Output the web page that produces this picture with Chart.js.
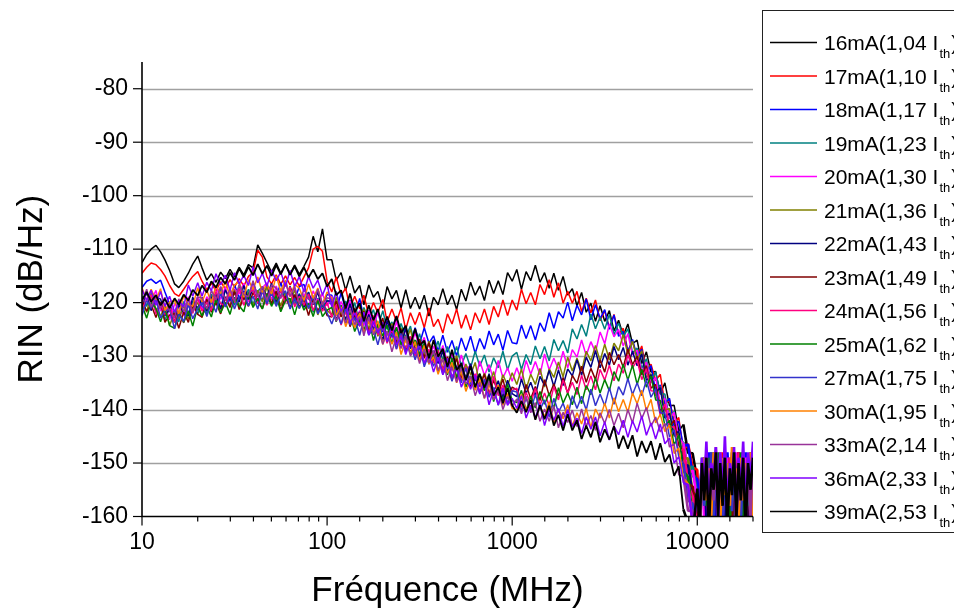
<!DOCTYPE html>
<html>
<head>
<meta charset="utf-8">
<title>RIN</title>
<script src="https://cdn.jsdelivr.net/npm/chart.js@4/dist/chart.umd.min.js"></script>
<style>
  html, body { margin: 0; padding: 0; background: #fff; }
  canvas { display: block; }
</style>
</head>
<body>
<canvas id="rinChart" width="954" height="614"></canvas>
<script>
// frequency grid (MHz)
const FREQ = [10,10.6,11.2,11.9,12.6,13.3,14.1,15,15.8,16.8,17.8,18.8,20,21.1,22.4,23.7,25.1,26.6,28.2,29.9,
  31.6,33.5,35.5,37.6,39.8,42.2,44.7,47.3,50.1,53.1,56.2,59.6,63.1,66.8,70.8,75,79.4,84.1,89.1,94.4,100,
  106,112,119,126,133,141,150,158,168,178,188,200,211,224,237,251,266,282,299,316,
  335,355,376,398,422,447,473,501,531,562,596,631,668,708,750,794,841,891,944,1000,
  1059,1122,1189,1259,1334,1413,1496,1585,1679,1778,1884,1995,2113,2239,2371,2512,2661,2818,2985,3162,
  3350,3548,3758,3981,4217,4467,4732,5012,5309,5623,5957,6310,6683,7079,7499,7943,8414,8913,9441,10000,
  10300,10600,10900,11200,11550,11900,12250,12600,12950,13300,13700,14100,
  14550,15000,15400,15800,16250,16700,17200,17700,18250,18800,19400,20000];

const CURRENTS = ['16mA','17mA','18mA','19mA','20mA','21mA','22mA','23mA','24mA','25mA','27mA','30mA','33mA','36mA','39mA'];
const RATIOS = ['1,04','1,10','1,17','1,23','1,30','1,36','1,43','1,49','1,56','1,62','1,75','1,95','2,14','2,33','2,53'];
const COLORS = ['#000000','#ff0000','#0000ff','#008080','#ff00ff','#808000','#000080','#800000','#ff0080','#008000','#3333cc','#ff8000','#993399','#8000ff','#000000'];

const Y_TICKS = [-160,-150,-140,-130,-120,-110,-100,-90,-80];
const X_TICKS = [10,100,1000,10000];

// RIN (dB/Hz)
const RIN_16 = [-112.5,-111,-110,-109.3,-110.5,-112,-114,-116.5,-117.2,-116,-114.5,-112.8,-111.3,-113.5,-115.8,-114.6,-116.2,-114.3,-115.5,-113.8,
  -115.2,-113.4,-114.8,-112.9,-113.5,-109.2,-110.8,-112.5,-114.3,-112.6,-114.5,-112.8,-114.6,-113,-114.7,-113.2,-111.5,-107.6,-110.5,-106.2,-112,
  -112,-115.8,-114.4,-117.7,-115,-118.2,-116.8,-120.4,-116.7,-119,-117.9,-121.1,-117,-119.3,-117.7,-121,-117.6,-121.1,-119,-121.2,
  -118.6,-122.5,-119,-120.4,-117.4,-120.4,-118.6,-121.3,-117.5,-119.7,-116.2,-118.6,-116.9,-119.6,-115.8,-118.3,-115.9,-118.5,-114.4,-116,
  -113.8,-117.5,-114.2,-115.9,-113,-116.2,-114.4,-117.3,-114.5,-117.7,-115.1,-118.6,-117.4,-120.6,-118.1,-121.8,-120.1,-123.5,-120.6,-123.5,
  -121.5,-125.3,-123.3,-126.2,-124,-127.7,-127,-131.4,-129.2,-133,-132.9,-137.1,-135,-139.3,-139.2,-144,-142.8,-148.1,-148.2,-153.2,
  -156,-150,-158,-149,-161,-151,-155,-148,-160,-152,-157,-149,-162,-150,-154,-148,-159,-151,-156,-149,-161,-150,-155,-148];
const RIN_17 = [-114.5,-113.4,-112.6,-112.9,-113.8,-115,-116.8,-118.3,-118.8,-117.5,-116.2,-115.1,-114.2,-116,-117.6,-116.4,-117.8,-116.1,-117.4,-115.7,
  -117.1,-115.5,-116.9,-115.1,-114.4,-110.2,-111.5,-115.2,-116.5,-114.8,-116.6,-115,-116.7,-115.3,-116.9,-115.2,-113.5,-110,-109.5,-110.4,-116,
  -118,-115.2,-118.7,-117.3,-121,-118.8,-121.2,-118.6,-122.4,-120,-121.9,-119.4,-123.6,-121.2,-123.6,-121,-125,-121.9,-124.1,-121.8,
  -124.7,-121,-124.5,-123.1,-125.7,-122.1,-124,-121.2,-124.8,-122.3,-125.1,-121.9,-123.8,-121.2,-124.1,-120.7,-122.7,-119.5,-122.4,-119.5,
  -121.4,-117.5,-120.2,-118.1,-120.4,-116.6,-118.5,-115.7,-119,-116.3,-120.1,-117.9,-120.1,-117.9,-121.7,-119.2,-121.9,-119.5,-123.4,-121.5,
  -124.7,-122.2,-125.9,-124.8,-129,-127.3,-130.2,-128.1,-132.8,-131.5,-134.6,-133.4,-139,-138.2,-142.3,-141.5,-147.7,-146.4,-150.8,-151.3,
  -160,-152,-149,-157,-151,-162,-149,-156,-150,-158,-148,-155,-151,-161,-149,-157,-150,-163,-152,-148,-158,-150,-160,-151];
const RIN_18 = [-117.2,-116,-115.6,-116.4,-115.8,-118,-120.3,-122.4,-120.1,-121.9,-119.4,-121.3,-118.9,-120.8,-121.4,-118.5,-119.9,-117.1,-119.4,-119.8,
  -116.6,-119.2,-117.8,-118.9,-116.2,-118.7,-119.5,-116.8,-118.6,-119,-116.3,-118.9,-117.4,-119.5,-117,-116.6,-119.3,-120,-117.6,-120.2,-118.5,
  -118.6,-121.6,-118.2,-121.3,-119.5,-122.5,-119.2,-122.9,-121.4,-124.2,-121.6,-125.5,-122.8,-124.9,-122.6,-126.4,-124.7,-127.6,-124.7,-127.7,
  -124.7,-127.6,-126.2,-129.1,-126.1,-129.3,-127.1,-130,-126.6,-129,-126.3,-129.5,-126.7,-128.7,-125.3,-127.9,-125.9,-128.9,-125.2,-127.5,
  -127.7,-124.2,-126.7,-124.3,-127,-123.8,-125.4,-121.9,-124.8,-121.7,-122.9,-119.9,-123.4,-120.5,-122.3,-119.3,-123.2,-120.4,-123,-121.3,
  -125,-122.3,-126.3,-125.4,-129.2,-126.9,-130.1,-128.7,-133.3,-131.8,-136.6,-135.4,-138.9,-137.9,-143.2,-142.2,-146.9,-146.5,-152.4,-153,
  -158,-153,-150,-160,-148,-155,-152,-162,-149,-154,-150,-159,-148,-156,-152,-161,-149,-155,-150,-158,-148,-162,-151,-156];
const RIN_19 = [-118.8,-120.7,-118.2,-121.6,-120.3,-123.3,-120.9,-121.9,-123.6,-119.8,-122,-119.7,-122.2,-119.6,-122.1,-118.4,-120,-117.7,-120.4,-118.1,
  -120.5,-116.8,-119.5,-117.5,-120.4,-117.9,-117,-119.8,-117.8,-120.3,-117.4,-119.2,-117,-120.4,-118.3,-120.5,-118,-121.8,-119.2,-120.8,-119.5,
  -120.4,-117.9,-122,-119.7,-122.3,-120,-124,-120.9,-123.3,-121.3,-124.6,-121.5,-125,-123.6,-126.8,-123.9,-126.5,-124.4,-128.1,-125.8,
  -129.7,-127.6,-129.6,-127.2,-130.9,-128.2,-130.7,-128.2,-131.8,-129.5,-132.2,-129.1,-131.9,-129.8,-133,-130.3,-132.2,-129.1,-132.6,-130,
  -129.3,-132.5,-129.7,-131.6,-128.1,-130.5,-128.2,-130.9,-126.9,-129,-127.1,-129.4,-124.9,-126.8,-124.1,-126.3,-122.1,-124.9,-122.7,-125,
  -122.2,-126,-123.8,-126.4,-124.9,-129.4,-128.5,-132.3,-130.5,-134.7,-132.9,-137.1,-137.1,-141.6,-140.3,-145.3,-146.1,-151.5,-150.6,-156,
  -161,-149,-155,-151,-159,-148,-157,-150,-162,-151,-156,-148,-158,-150,-161,-149,-154,-151,-160,-148,-156,-152,-159,-149];
const RIN_20 = [-120.6,-118.1,-119.7,-117.7,-121.6,-120.4,-123.2,-120.3,-120.7,-122.4,-118.9,-121.2,-118.9,-121.5,-118.9,-120.3,-116.9,-119.4,-117.1,-119.9,
  -117.4,-118.4,-116.4,-119.9,-116.8,-118.9,-117.2,-116.3,-119.5,-116.9,-119.2,-116.2,-118.9,-117.1,-120,-118.3,-120.8,-117.8,-119.9,-118.4,-120.6,
  -118.8,-122.5,-119.8,-121.9,-119.6,-123.4,-121.5,-124.3,-121.5,-124.7,-121.7,-124.6,-123.4,-126.6,-123.5,-126.8,-125.1,-128.5,-125.6,-128.5,
  -126.5,-130.3,-128.1,-130.7,-128,-131.2,-129.6,-132.9,-129.8,-132.8,-131.6,-134.6,-130.9,-133.6,-131.6,-134.5,-130.8,-134.1,-132.2,-134.7,
  -132.2,-134.6,-130.8,-133.4,-131,-133.5,-129.6,-132.6,-130.4,-132.5,-129.1,-132.2,-128.8,-130.2,-127,-129.9,-127.3,-129.3,-125.5,-127.7,
  -124,-126.4,-125,-128.1,-125.8,-129.8,-128.9,-133,-131.1,-135,-134,-138.8,-137.9,-141.7,-140.5,-145.2,-146.3,-151.9,-151.4,-157,
  -157,-151,-161,-149,-155,-150,-158,-148,-153,-162,-150,-156,-149,-159,-151,-155,-148,-161,-150,-157,-149,-154,-162,-150];
const RIN_21 = [-119.7,-121.8,-118.4,-121.3,-122.5,-120.6,-124.3,-121.8,-123,-120.6,-123.1,-120.8,-120,-122.8,-119.6,-121.1,-118.4,-121.3,-119.2,-120.6,
  -117.6,-120.9,-118.3,-118.7,-120.7,-117.7,-119.9,-117,-120.2,-118.4,-120.6,-118.1,-120,-117.6,-121.1,-119.1,-121.1,-118.8,-122.3,-120,-121.5,
  -122.2,-119,-122.2,-120.6,-123.9,-121.1,-123.5,-121.2,-125,-122.8,-126.3,-123.9,-126.1,-123.9,-127.5,-124.7,-127.4,-125,-128.9,-127,
  -130,-127.2,-130.4,-128.8,-132.5,-130.3,-132.6,-129.9,-133.8,-131.5,-133.5,-131.2,-135.4,-133.2,-135.5,-132.9,-136.7,-133.5,-135.5,-133.1,
  -135.3,-132.4,-136.2,-133.4,-135.3,-132.3,-135.8,-132.4,-134,-131.1,-133.9,-130.2,-132.8,-130.4,-132.8,-129.1,-130.9,-128,-130.9,-127.8,
  -130.7,-127.6,-129,-126,-129.7,-127.2,-130.7,-129,-134,-133.3,-137.4,-135.7,-140.1,-139.8,-145,-144.3,-149.2,-149.1,-155.6,-156,
  -162,-150,-154,-149,-160,-152,-156,-148,-159,-150,-162,-151,-155,-149,-158,-150,-163,-148,-156,-151,-160,-149,-155,-152];
const RIN_22 = [-120.5,-118,-121.5,-119.2,-119.3,-122.4,-121.2,-123.7,-120.3,-121.9,-122.5,-119,-121.4,-119,-121.5,-119.1,-118.4,-121.2,-117.6,-119.6,
  -118.1,-119.9,-116.8,-119.4,-117.4,-120.1,-117.1,-118.9,-116.4,-119.8,-117.7,-119.7,-117,-119.7,-118.5,-120.9,-118.1,-120.4,-118,-121.4,-119.7,
  -119.7,-123.3,-120.9,-123.2,-120.2,-123.2,-121.8,-125.4,-122.2,-125,-123.9,-127.1,-123.4,-126.3,-124.7,-128,-124.8,-128.6,-127.2,-130.2,
  -127.6,-131.5,-129,-131.4,-129.1,-132.9,-131.3,-134.3,-131.3,-134.2,-131.4,-134.6,-133.3,-136.4,-133.3,-136.6,-134.6,-137.8,-134.5,-137,
  -137.6,-134.3,-137,-134.9,-137.4,-133.8,-135.5,-132.7,-135.7,-132.6,-135.5,-132.4,-133.7,-130.7,-133.6,-130.2,-132.1,-129,-132.2,-129.5,
  -131.7,-128.2,-130.7,-128.4,-131.7,-129.1,-131.8,-129.6,-134.6,-133.5,-136.8,-135.9,-141.6,-140.7,-144.8,-144,-150.7,-150.4,-155.8,-156.3,
  -159,-152,-149,-161,-150,-156,-148,-158,-151,-154,-149,-162,-150,-157,-148,-155,-151,-160,-149,-156,-152,-161,-148,-157];
const RIN_23 = [-119.5,-121.6,-120.4,-122.8,-119.9,-123.7,-122.3,-122.1,-124.8,-121.8,-123.7,-120.4,-122.2,-122.7,-119.3,-121.8,-120,-122.1,-118.9,-120.9,
  -117.9,-121.3,-118.9,-120.7,-118.1,-119.9,-121.1,-118.3,-120.2,-117.8,-121.5,-118.8,-121,-118.5,-120.8,-119.4,-122.4,-119.4,-121.5,-120.1,-122.4,
  -122.7,-119.7,-122.7,-120.8,-124.5,-122.3,-124.4,-121.6,-125.6,-123.5,-125.4,-122.9,-127.3,-125.2,-127.5,-125,-129.2,-126.4,-128.8,-126.8,
  -130.4,-127.5,-131,-129.6,-132.9,-130.1,-132.6,-130.5,-134.3,-132.1,-135.9,-133.6,-135.7,-133.4,-137.1,-134.5,-136.9,-134.3,-137.9,-135.8,
  -136.3,-139.1,-135.3,-138,-135.7,-138.3,-134.4,-137.4,-135.2,-137.5,-134,-137,-133.6,-135.1,-131.9,-134.9,-132.3,-134.4,-130.7,-133,
  -129.3,-131.6,-129.7,-132.1,-128.7,-131.6,-130,-133.5,-131.8,-136,-135.3,-140.3,-139.3,-143.2,-142,-146.7,-147.8,-153.9,-154.4,-160,
  -163,-151,-157,-149,-155,-150,-161,-148,-156,-152,-159,-149,-154,-151,-162,-150,-157,-148,-155,-150,-159,-151,-163,-149];
const RIN_24 = [-121.3,-119.4,-118.6,-122.1,-120.1,-122.2,-120.4,-123.7,-121.5,-123.8,-120.3,-122,-119.3,-121.6,-119.9,-121.5,-117.9,-120.2,-120.6,-117.9,
  -120,-117.3,-120.5,-118.3,-117.6,-120.1,-117.9,-120.5,-117.2,-119.4,-117.8,-120,-117.1,-120.8,-118.8,-120.5,-118.4,-121.5,-119.4,-121.6,-120,
  -122.7,-120.4,-124.2,-121.7,-124.1,-121.1,-124.1,-122.6,-125.9,-122.4,-126,-124.8,-127.6,-124.8,-128.7,-126.1,-128.6,-126.3,-130,-128.4,
  -131.4,-128.7,-131.3,-129,-132.7,-130.5,-134.5,-131.9,-134.7,-132,-134.9,-133.3,-136.8,-134.3,-137.3,-133.8,-137.4,-135.4,-139,-136.4,
  -136,-139.6,-136.8,-138.9,-136,-139.2,-136.9,-139.3,-135.7,-138.2,-134.5,-136.9,-134.9,-137.2,-133.6,-136.3,-133.7,-136.3,-132.5,-134.5,
  -131.7,-134.6,-131.5,-133.2,-129.8,-132.2,-130.8,-134.4,-132.4,-136.5,-136.6,-141.1,-139,-143.3,-143.2,-148,-147.3,-154.1,-156.2,-161.7,
  -160,-150,-156,-152,-162,-149,-155,-151,-158,-148,-161,-150,-156,-149,-154,-152,-160,-148,-157,-151,-162,-149,-156,-150];
const RIN_25 = [-120.5,-122.9,-119.9,-121.1,-123.6,-121.1,-124.3,-124.8,-121.8,-123.7,-121.6,-124.4,-120.7,-122.5,-120.7,-122.7,-119.3,-121.9,-120,-122.2,
  -119,-120.6,-121.7,-118.1,-120.9,-119.2,-121.2,-118.4,-120.7,-118.7,-121.7,-119.6,-119.2,-122.3,-119.2,-121.4,-120.1,-122.6,-119.6,-122.6,-121.4,
  -120.9,-123.6,-120.5,-123.8,-121.9,-125.4,-123.2,-125.4,-122.8,-127.1,-124.2,-126.2,-124.2,-127.7,-124.6,-127.9,-126.4,-129.7,-127,-129.6,
  -127.6,-131.3,-129.7,-133,-130.3,-133.5,-130.4,-133.9,-132.1,-135.8,-133.7,-136,-133.3,-136.5,-134.3,-138.5,-135.7,-138.4,-135.3,-138.3,
  -138.7,-136.4,-140.2,-137.5,-139.7,-136.6,-139,-136.9,-139.9,-135.9,-138.8,-136.9,-139.1,-135.8,-138.9,-135.5,-137.2,-134.1,-136.9,-134.4,
  -136.5,-132.9,-134.7,-131.5,-134.5,-131.7,-135.3,-132.4,-135.8,-133.7,-138.2,-138.3,-143.1,-142,-146.6,-144.8,-151.5,-152.6,-160,-160.2,
  -164,-153,-150,-158,-149,-161,-151,-156,-148,-159,-152,-155,-150,-162,-149,-157,-151,-154,-148,-160,-150,-158,-149,-155];
const RIN_27 = [-122.4,-119.5,-121.1,-119.3,-122.9,-121.5,-121.3,-124.9,-122.2,-123.5,-120.3,-123,-121.1,-119.9,-122.6,-119.7,-121.8,-118.2,-120.8,-118.7,
  -121.2,-118.9,-118.1,-120.6,-118.8,-121.2,-117.7,-120.2,-118.1,-120.7,-118.6,-117.8,-121.2,-119.2,-121.1,-118.7,-121.1,-118.7,-122.1,-120.1,-121.9,
  -124,-121.6,-124,-121,-124.2,-122.8,-126.1,-122.9,-126,-124.9,-127.9,-124.2,-127.3,-125.7,-128.7,-125.3,-129.1,-127.7,-130.7,-128.1,
  -132,-129.5,-131.9,-129.6,-133.4,-131.8,-134.7,-131.8,-135,-132.2,-135.3,-133.9,-137.1,-134.3,-137.7,-135.9,-139.2,-136.1,-138.8,-136.5,
  -136.7,-140.3,-137.9,-140.2,-137.2,-140,-138.2,-141.4,-137.9,-140.5,-138.8,-141.4,-137.4,-139.8,-137.5,-140.1,-136.2,-139.3,-137.1,-139.3,
  -135.9,-139,-135.7,-137.3,-134.2,-137.2,-135,-137.4,-134.5,-137.7,-136.1,-140.6,-140.7,-145.1,-143.8,-148.8,-150.1,-157,-157.6,-163,
  -162,-151,-158,-150,-155,-148,-160,-152,-157,-149,-163,-150,-156,-151,-159,-148,-155,-150,-161,-149,-157,-152,-160,-150];
const RIN_30 = [-117.2,-119.6,-117.5,-119.5,-117.4,-121.5,-119.9,-119.6,-122.1,-118.7,-120.3,-120.7,-117.2,-119.9,-117.7,-120,-116.8,-118.3,-116,-118.8,
  -116.7,-116.1,-119,-115.7,-117.6,-115.2,-118.1,-116.5,-118.4,-115,-117.9,-115.8,-118.8,-116.6,-117.3,-119.6,-116.5,-119.2,-117.3,-120.3,-118,
  -119.2,-122.4,-120.8,-124.5,-122.3,-124.7,-121.9,-125.6,-123.5,-125.6,-123.4,-127.8,-125.4,-127.8,-125.5,-129.7,-126.9,-129.3,-127.3,-130.9,
  -128,-131.5,-130.1,-133.4,-130.6,-133.2,-131.2,-135,-132.8,-136.6,-134.3,-136.4,-134.2,-137.9,-135.3,-137.9,-135.4,-139.2,-137,-139.8,
  -140.1,-137.2,-140.1,-138.3,-141.8,-139.3,-141.4,-138.6,-142.4,-140,-141.7,-139.1,-143.1,-140.6,-142.7,-139.8,-143.4,-139.9,-141.6,-138.8,
  -141.6,-137.8,-140.4,-138.1,-140.5,-136.9,-138.9,-136.4,-140.2,-138.1,-142.5,-140.9,-144.1,-142.9,-148.2,-147.2,-152.9,-154,-161.4,-162,
  -161,-153,-149,-157,-151,-160,-148,-155,-152,-162,-149,-156,-150,-158,-147,-154,-151,-161,-149,-157,-150,-155,-148,-160];
const RIN_33 = [-120.1,-117.5,-120.8,-118.8,-121.1,-119,-121.6,-122.9,-119.3,-121.7,-119.3,-121.8,-119,-119.1,-121.2,-117.7,-119.5,-117,-119.6,-117.4,
  -119.8,-116.6,-118.5,-118.9,-115.9,-119,-117,-119.6,-116.7,-117.3,-119.2,-116.3,-118.8,-117.1,-120.2,-117.4,-119.3,-120.3,-117.5,-120.3,-119.1,
  -119.4,-123.5,-121.2,-123.8,-121.1,-124.1,-122.6,-126.2,-122.7,-126,-124.8,-127.8,-125.3,-129.2,-126.3,-128.6,-126.3,-130,-128.4,-131.4,
  -128.7,-131.3,-129,-132.7,-130.5,-134.6,-132.1,-134.9,-132.2,-135.2,-133.8,-137.4,-134.9,-137.9,-134.6,-138.2,-136.2,-140,-137.5,-139.4,
  -138,-140.8,-137.5,-140.6,-138.7,-142.2,-139.9,-142.2,-139.3,-143.4,-140.5,-142.4,-140.1,-143.2,-139.9,-143.1,-141.1,-143.9,-140.6,-142.6,
  -140,-143,-140.7,-143.4,-140,-142.5,-138.8,-141.7,-139.6,-143.1,-141.4,-144.2,-142.6,-147,-146.4,-152.2,-152.5,-158.9,-159,-160.8,
  -163,-150,-155,-148,-160,-151,-157,-147,-162,-150,-156,-149,-159,-152,-154,-148,-161,-150,-157,-149,-155,-151,-160,-148];
const RIN_36 = [-117.5,-119.6,-117.7,-120.5,-117.9,-120.7,-118.8,-121.8,-119.6,-120.8,-116.7,-118.8,-116.3,-118.8,-116.2,-117.8,-114.6,-116.7,-114.9,-117.7,
  -114.4,-116.5,-114.9,-116.8,-113.3,-116.3,-114.5,-117,-113.9,-115.9,-114.3,-117,-114,-117,-115.1,-118,-115.1,-117.3,-115.8,-118.6,-116.5,
  -120.8,-118,-121.6,-120.2,-123.9,-121.9,-124.4,-121.8,-126.1,-123.5,-125.7,-123.7,-127.2,-124.3,-127.9,-126.4,-129.7,-127,-129.6,-127.6,
  -131.3,-129.7,-133,-130.3,-133.5,-130.4,-133.9,-132.1,-135.8,-133.8,-136.2,-133.6,-137,-134.9,-139.1,-136.3,-139.1,-136,-139.2,-137.9,
  -139.8,-137.4,-141.6,-139.2,-141.5,-139,-143,-139.9,-142,-139.8,-143.2,-140,-143.2,-141.6,-144.5,-141.4,-143.7,-141.4,-144.9,-142.3,
  -145.7,-143.1,-144.7,-142,-145.2,-142.1,-144.2,-141.2,-144.8,-142.5,-145.5,-142.7,-146.4,-145.3,-150,-148.8,-153.7,-154.1,-161.6,-157,
  -158,-149,-155,-146,-160,-150,-153,-147,-161,-148,-156,-145,-159,-150,-154,-147,-162,-149,-155,-146,-160,-148,-153,-146];
const RIN_39 = [-119.5,-118,-119.8,-118.6,-120.5,-119.3,-121,-119.2,-120.4,-118.5,-119.6,-117.6,-118.7,-116.8,-118.1,-116,-117.2,-115.3,-116.5,-114.4,
  -115.8,-113.6,-115.2,-113.3,-114.9,-112.8,-114.6,-113.1,-115,-113,-114.7,-112.9,-114.8,-113.2,-115.1,-113.4,-115.3,-113.8,-115.6,-114.5,-117,
  -115.6,-118.6,-117.7,-121.1,-118.3,-121.8,-120.1,-123.5,-120.5,-123.3,-121.2,-124.8,-122.6,-125.2,-122.5,-125.7,-124.3,-127.9,-124.9,-128,
  -127.1,-130.4,-127,-130.1,-128.6,-132,-128.8,-132.6,-131.4,-134.5,-131.9,-135.8,-133.4,-135.9,-133.6,-137.4,-135.8,-138.8,-136,-139.2,
  -140.6,-138.4,-140.5,-138.2,-141.9,-139.2,-141.8,-139.3,-143,-141,-143.9,-140.9,-143.9,-142,-145.5,-143,-145.2,-142.3,-146.1,-143.7,
  -145.6,-143.1,-147.3,-144.9,-147.3,-144.8,-148.8,-145.9,-148.1,-145.9,-149.4,-146.3,-149.8,-148.4,-152.4,-150.6,-158.7,-161.2,-163.5,-154.8,
  -162,-150,-157,-149,-163,-151,-155,-148,-160,-150,-158,-149,-162,-151,-156,-148,-161,-150,-157,-149,-163,-150,-155,-149];

const SERIES = [RIN_16,RIN_17,RIN_18,RIN_19,RIN_20,RIN_21,RIN_22,RIN_23,RIN_24,RIN_25,RIN_27,RIN_30,RIN_33,RIN_36,RIN_39];

const FONT = "'Liberation Sans', Arial, sans-serif";

// grid lines, Origin-style ticks, axis lines and the boxed legend
const framePlugin = {
  id: 'frame',
  beforeDatasetsDraw(chart) {
    const {ctx, chartArea: a, scales: {y}} = chart;
    ctx.save();
    y.ticks.forEach(t => {
      if (t.value <= -160 || t.value >= -75) return;
      const py = Math.round(y.getPixelForValue(t.value)) + 0.5;
      const major = t.value % 10 === 0;
      ctx.strokeStyle = major ? '#a0a0a0' : '#c8c8c8';
      ctx.lineWidth = major ? 1.5 : 1;
      ctx.setLineDash(major ? [] : [2, 3]);
      ctx.beginPath();
      ctx.moveTo(a.left, py);
      ctx.lineTo(a.right, py);
      ctx.stroke();
    });
    ctx.restore();
  },
  afterDatasetsDraw(chart) {
    const {ctx, chartArea: a, scales: {x, y}} = chart;
    ctx.save();
    ctx.strokeStyle = '#000';
    ctx.lineWidth = 1.6;
    ctx.beginPath();
    ctx.moveTo(a.left, a.top);
    ctx.lineTo(a.left, a.bottom);
    ctx.lineTo(a.right, a.bottom);
    ctx.stroke();
    ctx.lineWidth = 1.2;
    x.ticks.forEach(t => {
      const lg = Math.log10(t.value);
      const major = Math.abs(lg - Math.round(lg)) < 1e-6;
      const px = x.getPixelForValue(t.value);
      ctx.beginPath();
      ctx.moveTo(px, a.bottom);
      ctx.lineTo(px, a.bottom + (major ? 9 : 5));
      ctx.stroke();
    });
    y.ticks.forEach(t => {
      if (t.value >= -75) return;
      const major = t.value % 10 === 0;
      const py = y.getPixelForValue(t.value);
      ctx.beginPath();
      ctx.moveTo(a.left, py);
      ctx.lineTo(a.left - (major ? 9 : 5), py);
      ctx.stroke();
    });
    ctx.restore();
  },
  afterDraw(chart) {
    const ctx = chart.ctx;
    ctx.save();
    ctx.strokeStyle = '#222';
    ctx.lineWidth = 1;
    ctx.strokeRect(762.5, 10.5, 300, 522);
    const y0 = 42.5, step = 33.5;
    chart.data.datasets.forEach((ds, i) => {
      const yy = y0 + i * step;
      ctx.strokeStyle = ds.borderColor;
      ctx.lineWidth = 1.3;
      ctx.beginPath();
      ctx.moveTo(770, yy);
      ctx.lineTo(817, yy);
      ctx.stroke();
      ctx.fillStyle = '#000';
      ctx.textBaseline = 'alphabetic';
      ctx.font = '21px ' + FONT;
      const main = CURRENTS[i] + '(' + RATIOS[i] + ' I';
      ctx.fillText(main, 824, yy + 7.5);
      const w = ctx.measureText(main).width;
      ctx.font = '13px ' + FONT;
      ctx.fillText('th', 824 + w + 1, yy + 15.5);
      const w2 = ctx.measureText('th').width;
      ctx.font = '21px ' + FONT;
      ctx.fillText(')', 824 + w + w2 + 2, yy + 7.5);
    });
    ctx.restore();
  }
};

const datasets = SERIES.map((vals, i) => ({
  label: CURRENTS[i] + '(' + RATIOS[i] + ' Ith)',
  data: vals.map((v, k) => ({x: FREQ[k], y: v})),
  borderColor: COLORS[i],
  backgroundColor: COLORS[i],
  borderWidth: i === 14 ? 1.8 : 1.5,
  borderJoinStyle: 'bevel',
  pointRadius: 0,
  tension: 0,
  fill: false,
  // the noise floor above 8 GHz is drawn heavier, as in the measurement
  segment: {
    borderWidth: c => c.p0.parsed.x >= 8400 ? 2.6 : undefined
  },
  order: SERIES.length - 1 - i
}));

new Chart(document.getElementById('rinChart'), {
  type: 'line',
  data: { datasets: datasets },
  options: {
    responsive: false,
    animation: false,
    devicePixelRatio: 1,
    layout: { padding: { top: 62, right: 201, left: 0, bottom: 0 } },
    plugins: {
      legend: { display: false },
      tooltip: { enabled: false }
    },
    scales: {
      x: {
        type: 'logarithmic',
        min: 10,
        max: 20000,
        afterFit: s => { s.height = 97.5; },
        grid: { display: true, drawOnChartArea: false, drawTicks: false, color: 'rgba(0,0,0,0)' },
        border: { display: false },
        ticks: {
          autoSkip: false,
          maxRotation: 0,
          padding: 12,
          color: '#000',
          font: { family: FONT, size: 23 },
          callback: v => X_TICKS.includes(v) ? String(v) : ''
        },
        title: {
          display: true,
          text: 'Fréquence (MHz)',
          color: '#000',
          font: { family: FONT, size: 35 },
          padding: { top: 0, bottom: 2 }
        }
      },
      y: {
        min: -160,
        max: -75,
        afterFit: s => { s.width = 142; },
        grid: { display: true, drawOnChartArea: false, drawTicks: false, color: 'rgba(0,0,0,0)' },
        border: { display: false },
        ticks: {
          stepSize: 5,
          padding: 14,
          color: '#000',
          font: { family: FONT, size: 23 },
          callback: v => Y_TICKS.includes(v) ? String(v) : ''
        },
        title: {
          display: true,
          text: 'RIN (dB/Hz)',
          color: '#000',
          font: { family: FONT, size: 35 },
          padding: { top: 11, bottom: 0 }
        }
      }
    }
  },
  plugins: [framePlugin]
});
</script>
</body>
</html>
